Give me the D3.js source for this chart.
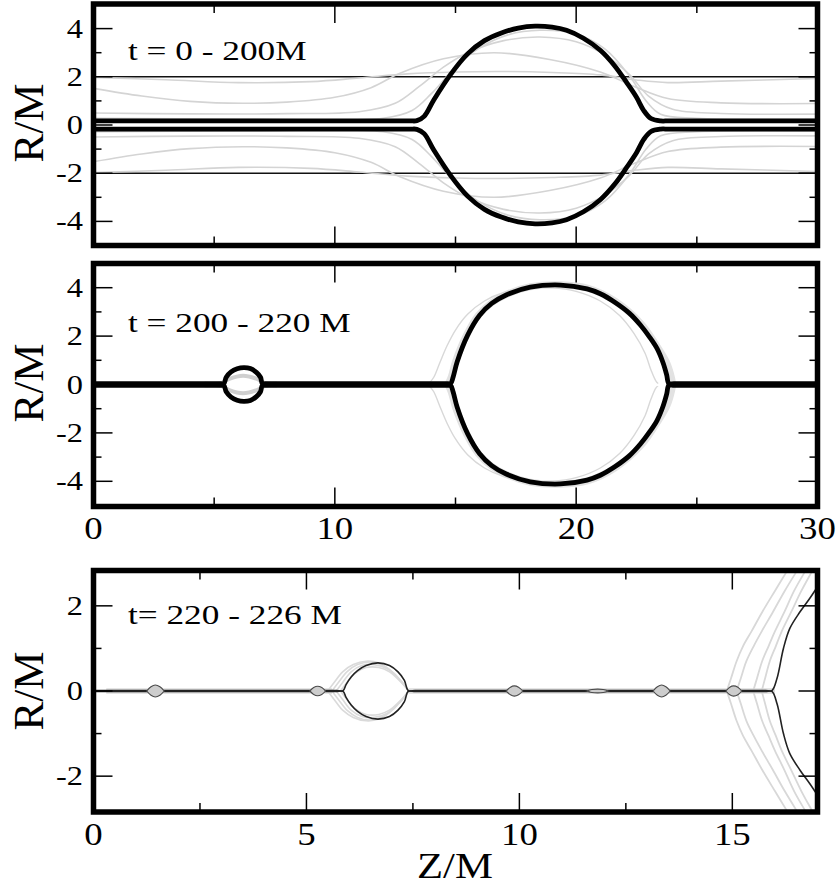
<!DOCTYPE html>
<meta charset="utf-8">
<script src="https://d3js.org/d3.v7.min.js"></script>
<style>
  body { margin: 0; background: #fff; }
</style>
<div id="my_dataviz"></div>
<script>

  // ---- data: upper half of each horizon profile, [Z/M, R/M]; lower half is the mirror ----

  // panel 1, t = 0 - 200M
  var p1_initial = [[0, 2], [30, 2]];
  var p1_grayA = [[0,1.97],[3,1.88],[6,1.76],[9,1.8],[11,1.95],[13,2.12],[15,2.2],[17,2.22],[19,2.18],[21,2.08],[22.5,1.87],[23.8,1.76],[26,1.82],[30,1.93]];
  var p1_grayB = [[0,1.52],[2,1.2],[4,0.98],[6.2,0.9],[8,0.95],[10,1.15],[11.5,1.55],[12.7,2.15],[14.5,2.75],[16.6,3.0],[18.9,2.72],[21,2.2],[22.4,1.6],[23.8,1.1],[26,0.92],[30,0.89]];
  var p1_grayC = [[0,0.5],[4,0.46],[8,0.47],[11,0.55],[12.5,0.9],[13.5,1.6],[14.5,2.4],[15.5,3.0],[17,3.5],[18.5,3.65],[20,3.45],[21.2,2.9],[22.2,2.1],[23,1.2],[24,0.65],[26,0.48],[30,0.45]];
  var p1_grayD = [[0,0.28],[6,0.25],[12,0.28],[13.2,0.6],[14,1.3],[15,2.4],[16,3.2],[17.2,3.75],[18.5,3.93],[20,3.78],[21.2,3.15],[22.2,2.05],[22.9,1.0],[23.5,0.45],[25,0.28],[30,0.25]];
  var p1_final = [[0,0.17],[6,0.17],[12.8,0.17],[13.15,0.17],[13.4,0.18],[13.7,0.36],[14.1,1.04],[14.8,2.1],[15.5,2.95],[16.2,3.5],[16.9,3.82],[17.6,4.02],[18.3,4.1],[19.0,4.06],[19.6,3.93],[20.3,3.6],[21.0,3.1],[21.6,2.45],[22.1,1.75],[22.5,1.15],[22.8,0.6],[23.1,0.27],[23.5,0.17],[23.8,0.17],[24.2,0.17],[30,0.17]];

  // panel 2, t = 200 - 220 M
  var p2_grayOuter = [[13.9,0.04],[14.1,0.3],[14.35,0.9],[14.65,1.6],[15.0,2.25],[15.5,2.9],[16.2,3.45],[17.0,3.8],[18.0,3.98],[19.0,4.0],[20.0,3.85],[21.0,3.45],[21.8,2.85],[22.4,2.1],[22.85,1.3],[23.1,0.6],[23.3,0.15],[23.4,0.04]];
  var p2_grayLate = [[14.7,0.04],[14.82,0.3],[15.0,0.94],[15.45,2.03],[15.95,2.86],[16.5,3.38],[17.1,3.72],[18.1,4.04],[19.35,4.12],[20.5,3.97],[21.6,3.45],[22.7,2.5],[23.4,1.5],[23.75,0.9],[23.92,0.4],[24.0,0.04]];
  var p2_grayBubble = [[4.6,0.04],[5.3,0.06],[5.6,0.22],[6.2,0.36],[6.8,0.22],[7.1,0.06],[7.6,0.04]];
  var p2_final = [[0,0.04],[4.8,0.04],[5.2,0.04],[5.4,0.04],[5.5,0.3],[5.7,0.52],[5.95,0.65],[6.23,0.7],[6.5,0.66],[6.75,0.5],[6.92,0.3],[7.0,0.04],[7.2,0.04],[7.6,0.04],[14.2,0.04],[14.6,0.04],[14.8,0.04],[14.9,0.3],[15.07,0.94],[15.5,2.03],[16.0,2.86],[16.5,3.35],[17.1,3.7],[18.1,4.02],[19.35,4.11],[20.45,3.95],[21.0,3.75],[21.6,3.4],[22.2,2.95],[22.67,2.45],[23.05,1.95],[23.35,1.49],[23.6,0.9],[23.75,0.4],[23.84,0.04],[24.05,0.04],[24.4,0.04],[30,0.04]];

  // panel 3, t= 220 - 226 M
  var p3_grayNeckL = [[0.3,0.02],[5.6,0.02]];
  var p3_grayNeckR = [[7.4,0.02],[16,0.02]];
  var p3_grayM1 = [[5.5,0],[5.65,0.2],[5.85,0.45],[6.1,0.62],[6.4,0.7],[6.7,0.66],[6.95,0.5],[7.2,0.25],[7.4,0]];
  var p3_grayM2 = [[5.6,0],[5.75,0.2],[5.95,0.45],[6.2,0.62],[6.5,0.68],[6.8,0.6],[7.05,0.42],[7.25,0.2],[7.4,0]];
  var p3_grayM3 = [[5.7,0],[5.85,0.2],[6.05,0.45],[6.3,0.6],[6.6,0.62],[6.9,0.52],[7.1,0.35],[7.3,0.15],[7.4,0]];
  var p3_grayM4 = [[5.8,0],[5.95,0.2],[6.15,0.42],[6.4,0.55],[6.7,0.55],[6.95,0.45],[7.15,0.28],[7.32,0.1],[7.4,0]];
  var p3_grayA1 = [[14.87,0],[14.97,0.3],[15.1,0.7],[15.25,1.05],[15.45,1.4],[15.7,1.85],[16.0,2.35],[16.28,2.81],[16.4,3.0]];
  var p3_grayA2 = [[15.1,0],[15.2,0.3],[15.33,0.7],[15.5,1.05],[15.69,1.4],[15.95,1.85],[16.23,2.35],[16.51,2.81],[16.63,3.0]];
  var p3_grayA3 = [[15.49,0],[15.58,0.3],[15.7,0.7],[15.85,1.05],[16.0,1.4],[16.22,1.85],[16.45,2.35],[16.71,2.81],[16.82,3.0]];
  var p3_grayA4 = [[15.69,0],[15.77,0.3],[15.88,0.7],[16.02,1.05],[16.16,1.4],[16.38,1.85],[16.62,2.35],[16.87,2.81],[16.97,3.0]];
  var p3_final = [[0,0.01],[5.4,0.01],[5.7,0.01],[5.86,0.01],[5.93,0.15],[6.05,0.33],[6.2,0.48],[6.4,0.6],[6.68,0.66],[6.95,0.6],[7.15,0.45],[7.3,0.25],[7.39,0.01],[7.55,0.01],[7.85,0.01],[15.5,0.01],[15.78,0.01],[15.93,0.01],[16.05,0.3],[16.2,1.0],[16.35,1.47],[16.59,1.86],[16.82,2.18],[17.0,2.45]];
  var p3_satellites = [
    [[1.25,0],[1.35,0.1],[1.45,0.14],[1.56,0.1],[1.66,0]],
    [[5.08,0],[5.17,0.08],[5.26,0.11],[5.36,0.08],[5.45,0]],
    [[9.69,0],[9.79,0.09],[9.88,0.12],[9.98,0.09],[10.08,0]],
    [[11.58,0],[11.7,0.035],[11.84,0.045],[11.97,0.035],[12.09,0]],
    [[13.14,0],[13.24,0.1],[13.34,0.14],[13.44,0.1],[13.54,0]],
    [[14.85,0],[14.94,0.09],[15.03,0.12],[15.13,0.09],[15.22,0]]
  ];

  // ticks and labels
  var p1_xMajor = [10, 20], p1_xMinor = [5, 15, 25];
  var p1_yMajor = [-4, -2, 0, 2, 4], p1_yMinor = [-3, -1, 1, 3];
  var p2_xLabels = [0, 10, 20, 30];
  var p3_xMajor = [5, 10, 15], p3_xMinor = [2.5, 7.5, 12.5];
  var p3_yMajor = [-2, 0, 2], p3_yMinor = [-1, 1];
  var p3_xLabels = [0, 5, 10, 15];

  var gray = "#d4d4d4";
  var serif = "'Liberation Serif', 'DejaVu Serif', serif";

  var svg = d3.select("#my_dataviz")
    .append("svg")
      .attr("width", 839)
      .attr("height", 896)
      .attr("font-family", serif);

  var panels = [
    { title: "t = 0 - 200M", titleY: 60, box: [93.5, 4, 817.5, 245.5], yRange: [245.5, 4.5],
      xDomain: [0, 30], yDomain: [-5, 5], xMajor: p1_xMajor, xMinor: p1_xMinor,
      yMajor: p1_yMajor, yMinor: p1_yMinor, yLabelCenter: 123, xLabels: [],
      series: [
        { data: p1_initial, color: "#111", width: 1.4 },
        { data: p1_grayA, color: gray, width: 1.6 },
        { data: p1_grayB, color: gray, width: 1.6 },
        { data: p1_grayC, color: gray, width: 1.6 },
        { data: p1_grayD, color: gray, width: 1.6 },
        { data: p1_final, color: "#000", width: 4.8 }
      ] },
    { title: "t = 200 - 220 M", titleY: 332, box: [93.5, 263.5, 817.5, 506.5], yRange: [505.5, 263.5],
      xDomain: [0, 30], yDomain: [-5, 5], xMajor: p1_xMajor, xMinor: p1_xMinor,
      yMajor: p1_yMajor, yMinor: p1_yMinor, yLabelCenter: 383, xLabels: p2_xLabels, xLabelY: 539,
      series: [
        { data: p2_grayLate, color: "#e2e2e2", width: 7 },
        { data: p2_grayOuter, color: "#d8d8d8", width: 1.4 },
        { data: p2_grayBubble, color: "#cfcfcf", width: 4 },
        { data: p2_final, color: "#000", width: 4.8 }
      ] },
    { title: "t= 220 - 226 M", titleY: 624, box: [93.5, 570.5, 817.5, 812], yRange: [811.5, 570.5],
      xDomain: [0, 17], yDomain: [-2.83, 2.83], xMajor: p3_xMajor, xMinor: p3_xMinor,
      yMajor: p3_yMajor, yMinor: p3_yMinor, yLabelCenter: 691, xLabels: p3_xLabels, xLabelY: 845,
      series: [
        { data: p3_grayNeckL, color: "#dcdcdc", width: 4 },
        { data: p3_grayNeckR, color: "#dcdcdc", width: 4 },
        { data: p3_grayM1, color: "#dadada", width: 1.6 },
        { data: p3_grayM2, color: "#dadada", width: 1.6 },
        { data: p3_grayM3, color: "#dadada", width: 1.6 },
        { data: p3_grayM4, color: "#dadada", width: 1.6 },
        { data: p3_grayA1, color: "#d8d8d8", width: 1.8 },
        { data: p3_grayA2, color: "#d8d8d8", width: 1.8 },
        { data: p3_grayA3, color: "#d8d8d8", width: 1.8 },
        { data: p3_grayA4, color: "#d8d8d8", width: 1.8 },
        { data: p3_final, color: "#222", width: 1.6 }
      ],
      bubbles: p3_satellites }
  ];

  var mirror = function(pts) { return pts.map(function(d) { return [d[0], -d[1]]; }); };

  panels.forEach(function(p, i) {
    var left = p.box[0], top = p.box[1], right = p.box[2], bottom = p.box[3];

    var x = d3.scaleLinear().domain(p.xDomain).range([left, right]);
    var y = d3.scaleLinear().domain(p.yDomain).range(p.yRange);

    svg.append("clipPath").attr("id", "clip" + i)
      .append("rect")
        .attr("x", left).attr("y", top)
        .attr("width", right - left).attr("height", bottom - top);

    var plot = svg.append("g").attr("clip-path", "url(#clip" + i + ")");

    var line = d3.line()
      .curve(d3.curveCatmullRom.alpha(0.5))
      .x(function(d) { return x(d[0]); })
      .y(function(d) { return y(d[1]); });

    p.series.forEach(function(s) {
      [s.data, mirror(s.data)].forEach(function(pts) {
        plot.append("path")
          .attr("d", line(pts))
          .attr("fill", "none")
          .attr("stroke", s.color)
          .attr("stroke-width", s.width)
          .attr("stroke-linejoin", "round");
      });
    });

    // small satellite bubbles
    var area = d3.area()
      .curve(d3.curveCatmullRom.alpha(0.5))
      .x(function(d) { return x(d[0]); })
      .y0(function(d) { return y(-d[1]); })
      .y1(function(d) { return y(d[1]); });
    (p.bubbles || []).forEach(function(b) {
      plot.append("path")
        .attr("d", area(b))
        .attr("fill", "#cdcdcd")
        .attr("stroke", "#4a4a4a")
        .attr("stroke-width", 1.1);
    });

    // inward ticks on all four sides
    var ticks = svg.append("g").attr("stroke", "#000").attr("stroke-width", 1.5);
    var addX = function(vals, len) {
      vals.forEach(function(v) {
        ticks.append("line").attr("x1", x(v)).attr("x2", x(v)).attr("y1", top).attr("y2", top + len);
        ticks.append("line").attr("x1", x(v)).attr("x2", x(v)).attr("y1", bottom).attr("y2", bottom - len);
      });
    };
    var addY = function(vals, len) {
      vals.forEach(function(v) {
        ticks.append("line").attr("y1", y(v)).attr("y2", y(v)).attr("x1", left).attr("x2", left + len);
        ticks.append("line").attr("y1", y(v)).attr("y2", y(v)).attr("x1", right).attr("x2", right - len);
      });
    };
    addX(p.xMajor, 19); addX(p.xMinor, 9);
    addY(p.yMajor, 19); addY(p.yMinor, 8);

    // frame
    svg.append("rect")
      .attr("x", left).attr("y", top)
      .attr("width", right - left).attr("height", bottom - top)
      .attr("fill", "none")
      .attr("stroke", "#000")
      .attr("stroke-width", 5.5);

    // y tick labels
    p.yMajor.forEach(function(v) {
      svg.append("text")
        .attr("transform", "translate(83," + (y(v) + 9) + ") scale(1.2,1)")
        .attr("text-anchor", "end")
        .attr("font-family", serif)
        .attr("font-size", 27)
        .text(v);
    });

    // x tick labels
    p.xLabels.forEach(function(v) {
      svg.append("text")
        .attr("transform", "translate(" + x(v) + "," + p.xLabelY + ") scale(1.15,1)")
        .attr("text-anchor", "middle")
        .attr("font-family", serif)
        .attr("font-size", 32)
        .text(v);
    });

    // panel title
    svg.append("text")
      .attr("transform", "translate(128," + p.titleY + ") scale(1.26,1)")
      .attr("font-family", serif)
      .attr("font-size", 28)
      .text(p.title);

    // y axis title
    svg.append("text")
      .attr("transform", "translate(43," + p.yLabelCenter + ") rotate(-90)")
      .attr("text-anchor", "middle")
      .attr("font-family", serif)
      .attr("font-size", 43)
      .text("R/M");
  });

  // x axis title
  svg.append("text")
    .attr("transform", "translate(455,878) scale(1.22,1)")
    .attr("text-anchor", "middle")
    .attr("font-family", serif)
    .attr("font-size", 35)
    .text("Z/M");

</script>
